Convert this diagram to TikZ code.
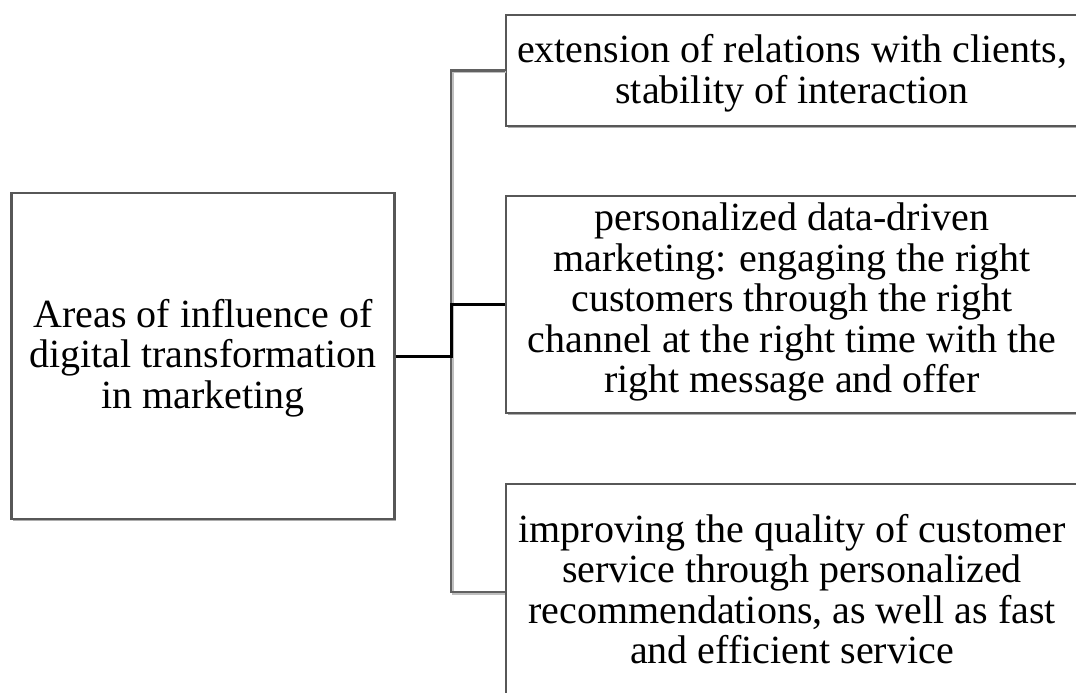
\documentclass[tikz,border=0pt]{standalone}
\usepackage{fontspec}
\setmainfont{Liberation Serif}
\usetikzlibrary{shadows}
\begin{document}
\begin{tikzpicture}[x=1pt,y=-1pt,
  box/.style={draw=black!66, line width=2.3pt, fill=white, inner sep=0pt,
    drop shadow={shadow xshift=1.6pt, shadow yshift=-1.6pt, fill=black!32, opacity=1}},
  label/.style={align=center, inner sep=0pt, font=\fontsize{40}{40.5}\selectfont},
  link/.style={draw=black!62, line width=2.3pt},
  linkshade/.style={draw=black!25, line width=1.8pt},
  mainlink/.style={draw=black, line width=3pt}]
\useasboundingbox (0,0) rectangle (1076,693);
\clip (0,0) rectangle (1076,693);

% x position of the vertical bracket
\coordinate (bus) at (451,0);

% frames
\node[box, minimum width=383pt, minimum height=326pt] (src) at (203,356) {};
\node[box, minimum width=572pt, minimum height=111pt] (b1) at (792,70.5) {};
\node[box, minimum width=572pt, minimum height=217pt] (b2) at (792,304.5) {};
\node[box, minimum width=572pt, minimum height=238pt] (b3) at (792,603) {};

% texts
\node[label] (srct) at (203,358)
  {Areas of influence of\\digital transformation\\in marketing};
\node[label] (b1t) at (792,73)
  {extension of relations with clients,\\stability of interaction};
\node[label] (b2t) at (792,302)
  {personalized data-driven\\marketing: engaging the right\\customers through the right\\channel at the right time with the\\right message and offer};
\node[label] (b3t) at (792,589)
  {improving the quality of customer\\service through personalized\\recommendations, as well as fast\\and efficient service};

% entry point of the lowest branch
\coordinate (in3) at (b3.west |- 0,592);

% bracket joining the three branches, with a light edge beside it
\draw[linkshade] ([shift={(1.6,1.6)}]b1.west) -| ([shift={(1.6,1.6)}]bus |- in3) -- ([shift={(0,1.6)}]in3);
\draw[link] (b1.west) -| (bus |- in3) -- (in3);
\draw[link] (bus |- b2.west) -- (b2.west);
% link from the central box into the bracket
\draw[mainlink] (src.east) -- (src.east -| bus) |- (b2.west);
\end{tikzpicture}
\end{document}
